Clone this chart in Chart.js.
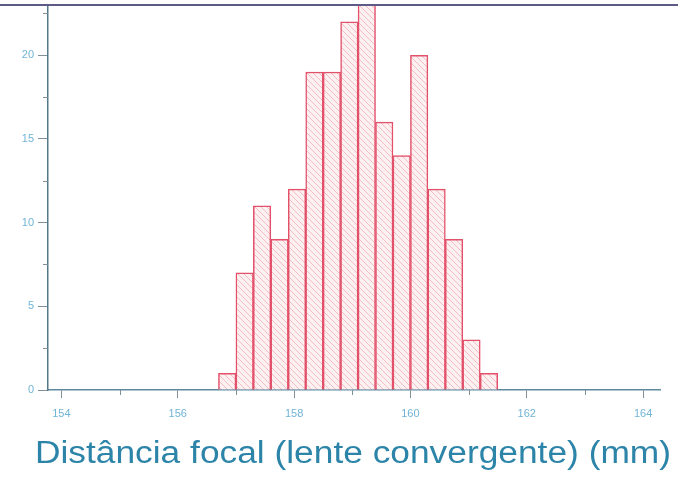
<!DOCTYPE html>
<html>
<head>
<meta charset="utf-8">
<script src="https://cdn.jsdelivr.net/npm/chart.js@4/dist/chart.umd.min.js"></script>
<style>
  html, body { margin: 0; padding: 0; background: #ffffff; }
  #wrap { width: 678px; height: 477px; position: relative; }
</style>
</head>
<body>
<div id="wrap"><canvas id="hist" width="678" height="477"></canvas></div>
<script>
// Histogram of measured focal lengths (bins 0.3 mm wide)
const binCenters = [156.85, 157.15, 157.45, 157.75, 158.05, 158.35, 158.65, 158.95,
                    159.25, 159.55, 159.85, 160.15, 160.45, 160.75, 161.05, 161.35];
const counts     = [1, 7, 11, 9, 12, 19, 19, 22, 25, 16, 14, 20, 12, 9, 3, 1];
const xTickValues = [154, 156, 158, 160, 162, 164];
const xMinorTicks = [155, 157, 159, 161, 163];
const yTickValues = [0, 5, 10, 15, 20];
const yMinorTicks = [2.5, 7.5, 12.5, 17.5, 22.5];
const axisTitle = 'Distância focal (lente convergente) (mm)';

// diagonal hatch fill for the bars
function hatchPattern() {
  const c = document.createElement('canvas');
  c.width = 6; c.height = 6;
  const g = c.getContext('2d');
  g.fillStyle = '#fdf0f1';
  g.fillRect(0, 0, 6, 6);
  g.strokeStyle = '#f4bcc4';
  g.lineWidth = 1;
  g.beginPath();
  g.moveTo(-1, -1); g.lineTo(7, 7);
  g.moveTo(-1, 5); g.lineTo(1, 7);
  g.moveTo(5, -1); g.lineTo(7, 1);
  g.stroke();
  return g.createPattern(c, 'repeat');
}

const decorations = {
  id: 'decorations',
  afterDraw(chart) {
    const { ctx, chartArea, scales } = chart;
    const xs = scales.x, ys = scales.y;
    ctx.save();
    // minor ticks on both axes
    ctx.strokeStyle = '#7f9098';
    ctx.lineWidth = 1;
    ctx.beginPath();
    yMinorTicks.forEach(v => {
      const y = Math.round(ys.getPixelForValue(v)) + 0.5;
      ctx.moveTo(chartArea.left - 5, y);
      ctx.lineTo(chartArea.left, y);
    });
    xMinorTicks.forEach(v => {
      const x = Math.round(xs.getPixelForValue(v)) + 0.5;
      ctx.moveTo(x, chartArea.bottom);
      ctx.lineTo(x, chartArea.bottom + 5);
    });
    ctx.stroke();
    // frame line along the top
    ctx.strokeStyle = '#5b5b85';
    ctx.lineWidth = 2;
    ctx.beginPath();
    ctx.moveTo(0, chartArea.top);
    ctx.lineTo(chart.width, chartArea.top);
    ctx.stroke();
    // axis caption, stretched slightly to the wide lettering
    ctx.fillStyle = '#2c84a8';
    ctx.font = '31px "Liberation Sans", Arial, sans-serif';
    ctx.textBaseline = 'alphabetic';
    ctx.textAlign = 'left';
    const w = ctx.measureText(axisTitle).width;
    ctx.translate(35, 463);
    ctx.scale(636 / w, 1);
    ctx.fillText(axisTitle, 0, 0);
    ctx.restore();
  }
};

new Chart(document.getElementById('hist'), {
  type: 'bar',
  data: {
    datasets: [{
      data: binCenters.map((x, i) => ({ x: x, y: counts[i] })),
      backgroundColor: hatchPattern(),
      borderColor: '#e2506a',
      borderWidth: 1.5,
      barPercentage: 1,
      categoryPercentage: 1
    }]
  },
  options: {
    responsive: false,
    animation: false,
    layout: { padding: { top: 5, right: 18, left: 0, bottom: 0 } },
    plugins: { legend: { display: false }, tooltip: { enabled: false } },
    scales: {
      x: {
        type: 'linear',
        offset: false,
        min: 153.77,
        max: 164.29,
        afterBuildTicks: s => { s.ticks = xTickValues.map(v => ({ value: v })); },
        afterFit: s => { s.height = 87; },
        grid: { display: true, drawOnChartArea: false, drawTicks: true, tickLength: 8,
                color: '#7f9098', offset: false },
        border: { display: true, color: '#5e8aa0', width: 1.5 },
        ticks: { color: '#70b4d6', padding: 9, maxRotation: 0,
                 font: { family: '"Liberation Sans", Arial, sans-serif', size: 11 } }
      },
      y: {
        min: 0,
        max: 23,
        afterBuildTicks: s => { s.ticks = yTickValues.map(v => ({ value: v })); },
        afterFit: s => { s.width = 48; s.paddingTop = 0; s.paddingBottom = 0; },
        grid: { display: true, drawOnChartArea: false, drawTicks: true, tickLength: 10,
                color: '#7f9098' },
        border: { display: true, color: '#52788c', width: 1.5 },
        ticks: { color: '#70b4d6', padding: 4,
                 font: { family: '"Liberation Sans", Arial, sans-serif', size: 11 } }
      }
    }
  },
  plugins: [decorations]
});
</script>
</body>
</html>
